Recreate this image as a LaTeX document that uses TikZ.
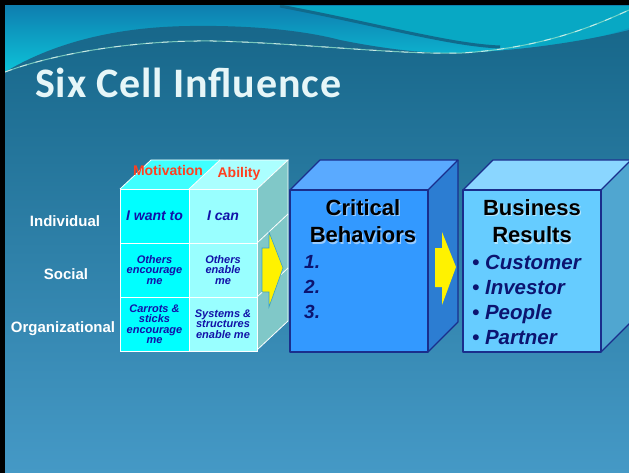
\documentclass[tikz,border=0pt]{standalone}
\usepackage{fontspec}
\setmainfont{Liberation Sans}
\newfontfamily\titlefont[LetterSpace=2]{Carlito}
\definecolor{skytop}{HTML}{0E7FB0}
\definecolor{skylow}{HTML}{0CCBDD}
\definecolor{swoosh}{HTML}{08A8C4}
\definecolor{stripe}{HTML}{106A8C}
\definecolor{bodytop}{HTML}{17678A}
\definecolor{bodymid}{HTML}{2E86B4}
\definecolor{bodylow}{HTML}{4599C6}
\definecolor{sparkle}{HTML}{8FE0C8}
\definecolor{titlecol}{HTML}{E6F6F8}
\definecolor{motcyan}{HTML}{00FFFF}
\definecolor{abilcyan}{HTML}{99FFFF}
\definecolor{mottop}{HTML}{40FFFF}
\definecolor{abiltop}{HTML}{ABFFFF}
\definecolor{cubeside}{HTML}{80C8C8}
\definecolor{celltext}{HTML}{1212A8}
\definecolor{hdrred}{HTML}{FF4020}
\definecolor{behfront}{HTML}{3399FF}
\definecolor{behtop}{HTML}{5AAAFF}
\definecolor{behside}{HTML}{2C7DD2}
\definecolor{resfront}{HTML}{66CCFF}
\definecolor{restop}{HTML}{8AD6FF}
\definecolor{resside}{HTML}{50A6D0}
\definecolor{cubeedge}{HTML}{1A2E8C}
\definecolor{navy}{HTML}{0C1470}
\definecolor{arrowedge}{HTML}{3AA0C8}
\tikzset{
  cellwall/.style={draw=white, line width=0.8pt},
  cellL/.style={cellwall, fill=motcyan, minimum width=69pt, minimum height=54pt, inner sep=0pt, text=celltext, align=center},
  cellR/.style={cellwall, fill=abilcyan, minimum width=68pt, minimum height=54pt, inner sep=0pt, text=celltext, align=center},
  bigcell/.style={font=\fontsize{14}{14}\selectfont\bfseries\itshape},
  smallcell/.style={font=\fontsize{11}{10.5}\selectfont\bfseries\itshape},
  rowlabel/.style={font=\fontsize{15}{15}\selectfont\bfseries, text=white, anchor=base},
  colhead/.style={font=\fontsize{14}{14}\selectfont\bfseries, text=hdrred, anchor=base},
  boxedge/.style={draw=cubeedge, line width=1.1pt, line join=round},
  headline/.style={font=\fontsize{22}{28}\selectfont\bfseries, anchor=base, inner sep=0pt},
  item/.style={font=\fontsize{20.5}{20.5}\selectfont\bfseries\itshape, text=navy, anchor=base west, inner sep=0pt},
  numitem/.style={item, font=\fontsize{19}{19}\selectfont\bfseries\itshape},
  bigarrow/.style={fill=yellow},
}
\begin{document}
\begin{tikzpicture}[x=1pt,y=-1pt]
\useasboundingbox (0,0) rectangle (629,473);
\fill[black] (0,0) rectangle (629,473);
\begin{scope}
  \clip (5,6) rectangle (629,473);
  % sky band above the wave
  \shade[top color=skytop, bottom color=skylow] (5,6) rectangle (629,80);
  \fill[swoosh] (280,6) .. controls (380,25) and (450,45) .. (500,47)
        .. controls (560,47) and (600,38) .. (629,28) -- (629,6) -- cycle;
  \draw[stripe, line width=3pt] (280,6) .. controls (380,25) and (450,45) .. (500,47);
  % main body of the slide
  \shade[top color=bodytop, middle color=bodymid, bottom color=bodylow]
    (5,72) .. controls (50,45) and (110,27) .. (190,26)
    .. controls (260,25) and (310,32) .. (340,40)
    .. controls (390,50) and (430,54) .. (462,53)
    .. controls (530,50) and (590,40) .. (629,30)
    -- (629,473) -- (5,473) -- cycle;
  % sparkling line along the wave
  \draw[sparkle, line width=1pt, opacity=0.8]
    (5,72) .. controls (50,55) and (130,40) .. (213,41)
    .. controls (300,43) and (400,55) .. (462,53)
    .. controls (540,48) and (590,28) .. (629,10);
  \draw[white, line width=1pt, opacity=0.6, dash pattern=on 7pt off 9pt]
    (5,72) .. controls (50,55) and (130,40) .. (213,41)
    .. controls (300,43) and (400,55) .. (462,53)
    .. controls (540,48) and (590,28) .. (629,10);

  % ---- six cell cube ----
  \fill[mottop] (120,189) -- (189,189) -- (220,160) -- (151,160) -- cycle;
  \fill[abiltop] (189,189) -- (257,189) -- (288,160) -- (220,160) -- cycle;
  \fill[cubeside] (257,189) -- (288,160) -- (288,321) -- (257,350) -- cycle;
  \draw[cellwall] (120,189) -- (151,160) -- (288,160) -- (257,189);
  \draw[cellwall] (189,189) -- (220,160);
  \draw[cellwall] (288,160) -- (288,321) -- (257,350);
  \draw[cellwall] (257,243) -- (288,214);
  \draw[cellwall] (257,297) -- (288,268);
  \node[cellL, bigcell] (c11) at (154.5,216) {I want to};
  \node[cellR, bigcell] (c12) at (223,216) {I can};
  \node[cellL, smallcell] (c21) at (154.5,270) {Others\\encourage\\me};
  \node[cellR, smallcell] (c22) at (223,270) {Others\\enable\\me};
  \node[cellL, smallcell] (c31) at (154.5,324) {Carrots \&\\sticks\\encourage\\me};
  \node[cellR, smallcell] (c32) at (223,324) {Systems \&\\structures\\enable me};
  \node[colhead] (mot) at (168,176) {Motivation};
  \node[colhead] (abil) at (239,178) {Ability};
  \node[rowlabel] (ind) at (65,226) {Individual};
  \node[rowlabel] (soc) at (66,279) {Social};
  \node[rowlabel] (org) at (63,332) {Organizational};
  \draw[bigarrow, draw=arrowedge, line width=0.6pt]
    (262,248) -- (269,248) -- (269,232) -- (283,268) -- (269,307) -- (269,292) -- (262,292) -- cycle;

  % ---- critical behaviors box ----
  \fill[behtop] (290,190) -- (428,190) -- (458,160) -- (320,160) -- cycle;
  \fill[behside] (428,190) -- (458,160) -- (458,322) -- (428,352) -- cycle;
  \node[boxedge, fill=behfront, minimum width=138pt, minimum height=162pt, inner sep=0pt] (beh) at (359,271) {};
  \draw[boxedge] (290,190) -- (320,160) -- (458,160) -- (428,190);
  \draw[boxedge] (458,160) -- (458,322) -- (428,352);
  \node[headline, text=white, opacity=0.5] at (364.2,216.2) {Critical};
  \node[headline, text=white, opacity=0.5] at (364.2,244.2) {Behaviors};
  \node[headline] (crit) at (363,215) {Critical};
  \node[headline] (behav) at (363,243) {Behaviors};
  \node[numitem] (n1) at (304,268) {1.};
  \node[numitem] (n2) at (304,293) {2.};
  \node[numitem] (n3) at (304,318) {3.};
  \fill[bigarrow]
    (435,248) -- (442,248) -- (442,232) -- (456,267) -- (442,305) -- (442,287) -- (435,287) -- cycle;

  % ---- business results box ----
  \fill[restop] (463,190) -- (601,190) -- (631,160) -- (493,160) -- cycle;
  \fill[resside] (601,190) -- (631,160) -- (631,322) -- (601,352) -- cycle;
  \node[boxedge, fill=resfront, minimum width=138pt, minimum height=162pt, inner sep=0pt] (res) at (532,271) {};
  \draw[boxedge] (463,190) -- (493,160) -- (631,160);
  \draw[boxedge] (601,190) -- (631,160);
  \draw[boxedge] (601,352) -- (631,322);
  \node[headline, text=white, opacity=0.5] at (533.2,216.2) {Business};
  \node[headline, text=white, opacity=0.5] at (533.2,244.2) {Results};
  \node[headline] (bus) at (532,215) {Business};
  \node[headline] (resl) at (532,243) {Results};
  \node[item] (b1) at (472,269) {\textbullet\ Customer};
  \node[item] (b2) at (472,294) {\textbullet\ Investor};
  \node[item] (b3) at (472,319) {\textbullet\ People};
  \node[item] (b4) at (472,344) {\textbullet\ Partner};

  % ---- title ----
  \node[anchor=base west, inner sep=0pt, text=titlecol,
        font=\titlefont\bfseries\fontsize{42}{42}\selectfont] (title) at (35,98) {Six Cell Influence};
\end{scope}
\end{tikzpicture}
\end{document}
